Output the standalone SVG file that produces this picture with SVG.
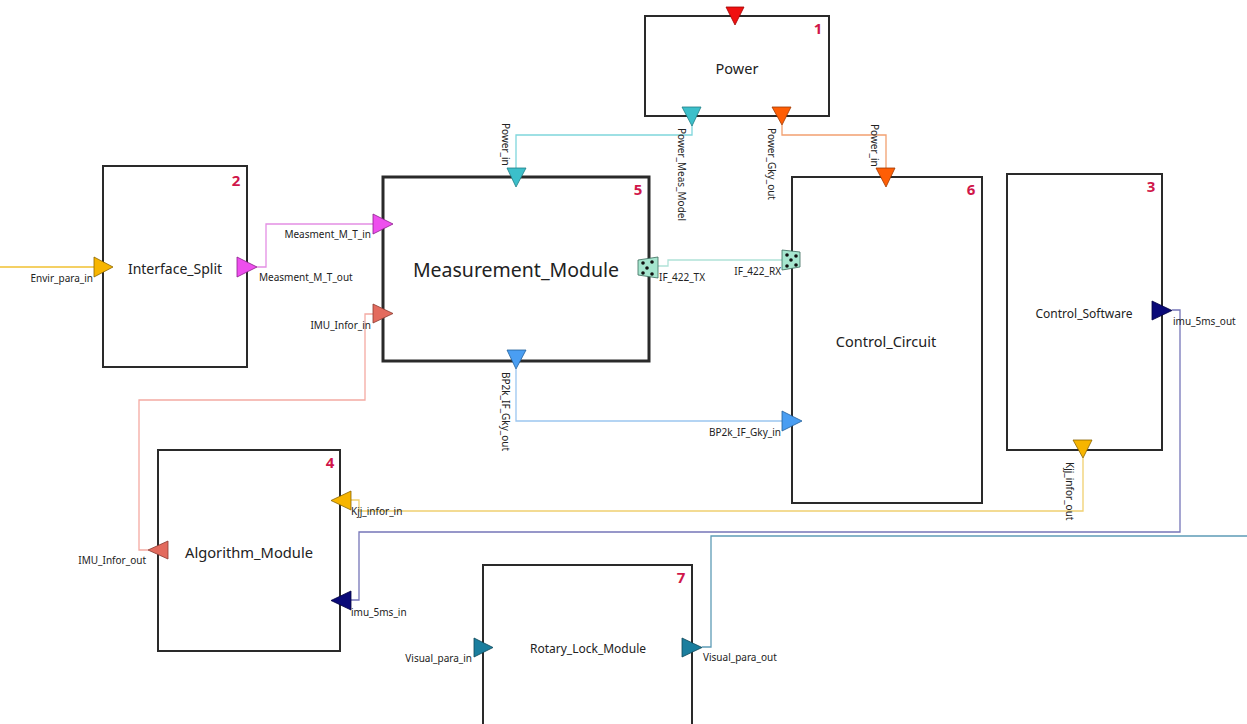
<svg xmlns="http://www.w3.org/2000/svg" width="1247" height="724" viewBox="0 0 1247 724">
<style>
.box{fill:#fff;stroke:#2a2a2a;stroke-width:2}
.thick{stroke-width:3}
.num{font-family:"Noto Sans","Liberation Sans",sans-serif;font-weight:bold;font-size:15px;fill:#d0164a;text-anchor:middle}
.title{font-family:"Noto Sans","Liberation Sans",sans-serif;fill:#222;text-anchor:middle;dominant-baseline:central}
.lbl{font-family:"Noto Sans","Liberation Sans",sans-serif;font-size:10px;fill:#222}
.end{text-anchor:end}
.port{stroke-width:0.8;stroke-linejoin:miter}
.conn{fill:none;stroke-width:1.3}
</style>
<rect width="1247" height="724" fill="#fff"/>
<g id="connectors">
  <path class="conn" d="M0,267 H94" stroke="#f0c030"/>
  <path class="conn" d="M692,125 V135 H516 V168" stroke="#7fd6dc"/>
  <path class="conn" d="M782,125 V135 H886 V168" stroke="#f2a070"/>
  <path class="conn" d="M257,267 H266 V224 H373" stroke="#e48ee4"/>
  <path class="conn" d="M373,314 H365 V400 H139 V550 H148" stroke="#f4aaa2"/>
  <path class="conn" d="M658,266 H668 V260 H782" stroke="#b0e2d8"/>
  <path class="conn" d="M516,369 V421 H782" stroke="#9cc6f0"/>
  <path class="conn" d="M1083,458 V511 H359 V500 H351" stroke="#f0d070"/>
  <path class="conn" d="M1172,310 H1180 V532 H359 V600 H351" stroke="#7676b8"/>
  <path class="conn" d="M702,647 H711 V536 H1247" stroke="#5e9cb6"/>
</g>
<g id="n1">
  <rect class="box" x="645" y="16" width="184" height="100"/>
  <text class="num" x="818" y="34">1</text>
  <text class="title" x="737" y="68" font-size="14.5">Power</text>
  <path class="port" d="M726,7 H744 L735,25 Z" fill="#f01010" stroke="#a00000"/>
  <path class="port" d="M682,107 H701 L692,126 Z" fill="#3cbfca" stroke="#1f7f86"/>
  <path class="port" d="M772,107 H791 L782,125 Z" fill="#ff5e05" stroke="#a03800"/>
  <text class="lbl" transform="translate(678,128) rotate(90)">Power_Meas_Model</text>
  <text class="lbl" transform="translate(768,128) rotate(90)">Power_Gky_out</text>
</g>
<g id="n2">
  <rect class="box" x="103" y="166" width="144" height="201"/>
  <text class="num" x="236" y="186">2</text>
  <text class="title" x="175" y="268" font-size="14">Interface_Split</text>
  <path class="port" d="M94,257 V277 L113,267 Z" fill="#f7b500" stroke="#8a6400"/>
  <path class="port" d="M237,257 V277 L257,267 Z" fill="#ee4fee" stroke="#8a208a"/>
  <text class="lbl end" x="93" y="282">Envir_para_in</text>
  <text class="lbl" x="259" y="281">Measment_M_T_out</text>
</g>
<g id="n5">
  <rect class="box thick" x="383" y="177" width="266" height="184"/>
  <text class="num" x="638" y="195">5</text>
  <text class="title" x="516" y="269" font-size="19.5px">Measurement_Module</text>
  <path class="port" d="M507,168 H526 L516,187 Z" fill="#3cbfca" stroke="#1f7f86"/>
  <path class="port" d="M373,214 V234 L393,224 Z" fill="#ee4fee" stroke="#8a208a"/>
  <path class="port" d="M373,304 V323 L393,313.5 Z" fill="#e36b5e" stroke="#8a3a30"/>
  <path class="port" d="M507,350 H526 L516,369 Z" fill="#4a9ef2" stroke="#22609a"/>
  <path class="port" d="M638,260 L658,257 V278 L638,275 Z" fill="#a6e6cf" stroke="#3a6a5a"/>
  <g fill="#111"><circle cx="643" cy="263" r="1.8"/><circle cx="652" cy="262" r="1.8"/><circle cx="647" cy="268" r="1.8"/><circle cx="643" cy="273" r="1.8"/><circle cx="652" cy="274" r="1.8"/></g>
  <text class="lbl" transform="translate(502,123) rotate(90)">Power_in</text>
  <text class="lbl end" x="371" y="238">Measment_M_T_in</text>
  <text class="lbl end" x="371" y="329">IMU_Infor_in</text>
  <text class="lbl" x="659" y="281">IF_422_TX</text>
  <text class="lbl" transform="translate(502,372) rotate(90)">BP2k_IF_Gky_out</text>
</g>
<g id="n6">
  <rect class="box" x="792" y="177" width="190" height="326"/>
  <text class="num" x="971" y="195">6</text>
  <text class="title" x="886" y="341" font-size="14.5">Control_Circuit</text>
  <path class="port" d="M876,168 H895 L886,187 Z" fill="#ff5e05" stroke="#a03800"/>
  <path class="port" d="M782,250 L800,252 V267 L782,270 Z" fill="#a6e6cf" stroke="#3a6a5a"/>
  <g fill="#111"><circle cx="787" cy="255" r="1.8"/><circle cx="796" cy="256" r="1.8"/><circle cx="791" cy="260" r="1.8"/><circle cx="787" cy="266" r="1.8"/><circle cx="796" cy="265" r="1.8"/></g>
  <path class="port" d="M782,411 V431 L802,421 Z" fill="#4a9ef2" stroke="#22609a"/>
  <text class="lbl" transform="translate(871,124) rotate(90)">Power_in</text>
  <text class="lbl end" x="781" y="275">IF_422_RX</text>
  <text class="lbl end" x="781" y="436">BP2k_IF_Gky_in</text>
</g>
<g id="n3">
  <rect class="box" x="1007" y="174" width="155" height="276"/>
  <text class="num" x="1151" y="192">3</text>
  <text class="title" x="1084" y="313" font-size="12">Control_Software</text>
  <path class="port" d="M1152,301 V320 L1172,310.5 Z" fill="#0a0a78" stroke="#000040"/>
  <path class="port" d="M1073,440 H1092 L1083,458 Z" fill="#f7b500" stroke="#8a6400"/>
  <text class="lbl" x="1173" y="325">imu_5ms_out</text>
  <text class="lbl" transform="translate(1066,462) rotate(90)">Kjj_infor_out</text>
</g>
<g id="n4">
  <rect class="box" x="158" y="450" width="182" height="201"/>
  <text class="num" x="330" y="468">4</text>
  <text class="title" x="249" y="552" font-size="14.7px">Algorithm_Module</text>
  <path class="port" d="M168,541 V559 L148,550 Z" fill="#e36b5e" stroke="#8a3a30"/>
  <path class="port" d="M351,491 V510 L331,500.5 Z" fill="#f7b500" stroke="#8a6400"/>
  <path class="port" d="M351,591 V610 L331,600.5 Z" fill="#0a0a78" stroke="#000040"/>
  <text class="lbl end" x="146" y="564">IMU_Infor_out</text>
  <text class="lbl" x="351" y="515">Kjj_infor_in</text>
  <text class="lbl" x="351" y="616">imu_5ms_in</text>
</g>
<g id="n7">
  <rect class="box" x="483" y="565" width="209" height="170"/>
  <text class="num" x="681" y="583">7</text>
  <text class="title" x="588" y="648" font-size="12">Rotary_Lock_Module</text>
  <path class="port" d="M474,638 V657 L493,647.5 Z" fill="#1b7e9e" stroke="#0c4658"/>
  <path class="port" d="M682,638 V657 L702,647.5 Z" fill="#1b7e9e" stroke="#0c4658"/>
  <text class="lbl end" x="472" y="662">Visual_para_in</text>
  <text class="lbl" x="703" y="661">Visual_para_out</text>
</g>
</svg>
